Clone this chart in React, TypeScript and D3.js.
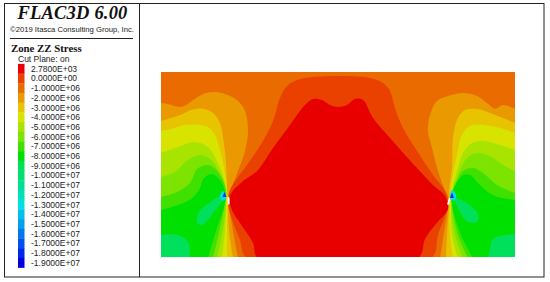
import React from "react";
import * as d3 from "d3";

type P = [number, number];

const legendLabels = ["2.7800E+03","0.0000E+00","-1.0000E+06","-2.0000E+06","-3.0000E+06","-4.0000E+06","-5.0000E+06","-6.0000E+06","-7.0000E+06","-8.0000E+06","-9.0000E+06","-1.0000E+07","-1.1000E+07","-1.2000E+07","-1.3000E+07","-1.4000E+07","-1.5000E+07","-1.6000E+07","-1.7000E+07","-1.8000E+07","-1.9000E+07"];
const legendColors = ["#e80000","#ea4000","#ea6c00","#ea9a00","#e8c400","#d8e400","#a8e400","#7ce400","#40e000","#00e000","#00e05a","#00e070","#00e090","#00e0b8","#00e0e0","#00c0ec","#00a0ec","#0078ec","#0050ec","#0028ec","#0000e0"];

// Contour boundaries, in image coordinates
const leftOrange: P[] = [[161,103],[171,104.7],[179.7,107],[186,105],[195,98.7],[206,93],[218,92.3],[230,96],[238,101],[245,111],[248,131],[245,151],[238,171],[232,187],[229,197],[232,225],[238,258]];
const leftYellowOrange: P[] = [[161,121],[171,118],[181,114.7],[191,110],[203,108.7],[213,113],[220,123],[223,137],[226,163],[227,187],[228,200],[229,230],[233,258]];
const leftYellow: P[] = [[161,131],[171,129],[185,125],[198,124.7],[208,127],[215,135],[220,150],[225,173],[227,190],[227,205],[227,230],[227,258]];
const leftYellowGreen: P[] = [[161,153],[178,147],[195,142],[208,147],[218,163],[226,188],[226,205],[225,230],[222,258]];
const leftLime: P[] = [[161,177],[175,172],[188,160],[201,155],[213,162],[225,188],[226,203],[223,230],[217,258]];
const leftGreenLime: P[] = [[161,197],[177,192],[190,183],[197,169],[208,165],[219,173],[226,190],[225,203],[220,228],[213,258]];
const leftGreen: P[] = [[161,210],[178,205],[191,199],[199,190],[204,178],[212,174],[220,180],[225,192],[225,203],[217,228],[208,258]];
const leftSpringCorner: P[] = [[160,235],[178,235],[188,242],[190,258]];
const leftSpringPatch: P[] = [[197,222],[199,212],[208,204],[219,197],[222,200],[214,212],[206,222],[201,225]];

const rightOrange: P[] = [[515,108.7],[503,105],[495,108.7],[487,103],[477,96],[463,93],[448,96],[437,101],[430,115],[428,131],[432,148],[438,171],[444,188],[448,197],[443,239],[440,258]];
const rightYellowOrange: P[] = [[515,123],[503,118],[490,113],[477,109],[465,110],[458,118],[453,138],[452,168],[449,191],[449,205],[447,235],[446,258]];
const rightYellow: P[] = [[515,133],[500,128],[483,125],[470,126],[462,135],[457,155],[452,181],[450,205],[450,235],[453,258]];
const rightYellowGreen: P[] = [[515,150],[500,145],[483,141],[472,143],[463,153],[457,171],[452,190],[451,205],[452,235],[458,258]];
const rightLime: P[] = [[515,171],[503,165],[490,156],[477,153],[467,158],[458,175],[452,192],[451,205],[455,235],[463,258]];
const rightGreenLime: P[] = [[515,193],[497,185],[483,173],[473,168],[463,171],[455,185],[452,193],[452,205],[458,235],[468,258]];
const rightGreen: P[] = [[516,200],[498,197],[488,192],[478,183],[470,175],[462,176],[455,186],[452,195],[452,205],[461,235],[473,258]];
const rightSpringCorner: P[] = [[516,234],[505,235],[493,239],[490,249],[488,258]];
const rightSpringPatch: P[] = [[455,198],[468,204],[478,214],[477,222],[468,222],[460,212]];

const centerRedOrange: P[] = [[228,204],[230,190],[247,165],[263,141],[273,121],[280,98],[287,86],[297,80],[313,77],[347,76],[370,78],[383,83],[390,91],[395,108],[403,128],[417,151],[433,175],[445,191],[448,204],[438,235],[431,258],[247,258],[240,240],[233,222]];
const centerRed: P[] = [[230,196],[243,181],[257,171],[273,148],[290,125],[305,105],[313,99],[322,100],[330,105],[338,107],[347,105],[355,99],[363,100],[373,118],[390,138],[417,168],[433,185],[445,196],[448,209],[435,225],[425,239],[418,258],[258,258],[253,243],[240,223],[232,210]];

const leftTipCyan: P[] = [[220,196],[223,191],[226,195],[225,200],[221,200]];
const rightTipCyan: P[] = [[452,190],[456,195],[455,200],[451,200],[450,196]];
const leftTipBlue: P[] = [[224.5,192],[222.5,197],[226.5,197]];
const rightTipBlue: P[] = [[452,192.5],[450,198],[454,198]];
const leftNotch: P[] = [[227.5,196],[229.5,198],[229.5,204],[227.5,205]];
const rightNotch: P[] = [[449,198],[450,198],[449.5,204.5],[447,204.5]];

const cornerBL: P[] = [[160,258]];
const cornerBR: P[] = [[516,258]];

const plotX = d3.scaleLinear().domain([161, 515]).range([161, 515]);
const plotY = d3.scaleLinear().domain([72, 257]).range([72, 257]);
const curve = d3.line<P>().x(d => plotX(d[0])).y(d => plotY(d[1])).curve(d3.curveCatmullRom.alpha(0.5));
const closed = d3.line<P>().x(d => plotX(d[0])).y(d => plotY(d[1])).curve(d3.curveCatmullRomClosed.alpha(0.5));
const straight = d3.line<P>().x(d => plotX(d[0])).y(d => plotY(d[1]));
const open = (pts: P[], corners: P[]) => curve(pts)! + corners.map(c => `L${plotX(c[0])},${plotY(c[1])}`).join("") + "Z";

const rowY = d3.scalePoint<string>().domain(legendLabels).range([68.7, 262.7]);
const step = rowY.step();

const sans = "Liberation Sans, Arial, sans-serif";
const serif = "Liberation Serif, Times New Roman, serif";

export default function App() {
  const c = legendColors;
  return (
    <svg width={550} height={282} style={{ position: "fixed", left: 0, top: 0, background: "#fff" }}>
      <defs>
        <clipPath id="plot"><rect x={161} y={72} width={354} height={185} /></clipPath>
        <filter id="soft"><feGaussianBlur stdDeviation={0.4} /></filter>
      </defs>

      <rect x={4.5} y={3.5} width={539.5} height={273.5} fill="none" stroke="#222" strokeWidth={1} />
      <line x1={139.5} x2={139.5} y1={3.5} y2={277} stroke="#222" strokeWidth={1} />

      <text x={72.5} y={19} textAnchor="middle" fontFamily={serif} fontWeight={700} fontStyle="italic" fontSize={18.5} letterSpacing={0.2} fill="#111">FLAC3D 6.00</text>
      <text x={72} y={31.5} textAnchor="middle" fontFamily={sans} fontSize={7.7} fill="#222">©2019 Itasca Consulting Group, Inc.</text>
      <line x1={10} x2={133} y1={38.5} y2={38.5} stroke="#222" strokeWidth={1} />
      <text x={11} y={52} fontFamily={serif} fontWeight={700} fontSize={10.8} fill="#111">Zone ZZ Stress</text>
      <text x={18} y={62} fontFamily={sans} fontSize={8.5} fill="#222">Cut Plane: on</text>

      {legendLabels.map((l, i) => (
        <g key={l}>
          <rect x={18} y={rowY(l)! - step / 2} width={6.5} height={step + 0.3} fill={legendColors[i]} />
          <text x={31} y={rowY(l)! + 3} fontFamily={sans} fontSize={8.5} fill="#222">{l}</text>
        </g>
      ))}

      <g clipPath="url(#plot)">
        <g filter="url(#soft)">
          <rect x={161} y={72} width={354} height={185} fill={c[2]} />
          <path d={open(leftOrange, cornerBL)} fill={c[3]} />
          <path d={open(leftYellowOrange, cornerBL)} fill={c[4]} />
          <path d={open(leftYellow, cornerBL)} fill={c[5]} />
          <path d={open(leftYellowGreen, cornerBL)} fill={c[6]} />
          <path d={open(leftLime, cornerBL)} fill={c[7]} />
          <path d={open(leftGreenLime, cornerBL)} fill={c[8]} />
          <path d={open(leftGreen, cornerBL)} fill={c[9]} />
          <path d={open(leftSpringCorner, cornerBL)} fill={c[10]} />
          <path d={closed(leftSpringPatch)!} fill={c[10]} />
          <path d={open(rightOrange, cornerBR)} fill={c[3]} />
          <path d={open(rightYellowOrange, cornerBR)} fill={c[4]} />
          <path d={open(rightYellow, cornerBR)} fill={c[5]} />
          <path d={open(rightYellowGreen, cornerBR)} fill={c[6]} />
          <path d={open(rightLime, cornerBR)} fill={c[7]} />
          <path d={open(rightGreenLime, cornerBR)} fill={c[8]} />
          <path d={open(rightGreen, cornerBR)} fill={c[9]} />
          <path d={open(rightSpringCorner, cornerBR)} fill={c[10]} />
          <path d={closed(rightSpringPatch)!} fill={c[10]} />
          <path d={closed(centerRedOrange)!} fill={c[1]} />
          <path d={closed(centerRed)!} fill={c[0]} />
          <path d={closed(leftTipCyan)!} fill={c[14]} />
          <path d={closed(rightTipCyan)!} fill={c[14]} />
          <path d={straight(leftTipBlue)! + "Z"} fill={c[19]} />
          <path d={straight(rightTipBlue)! + "Z"} fill={c[19]} />
          <path d={straight(leftNotch)! + "Z"} fill="#fff" />
          <path d={straight(rightNotch)! + "Z"} fill="#fff" />
        </g>
      </g>
    </svg>
  );
}
